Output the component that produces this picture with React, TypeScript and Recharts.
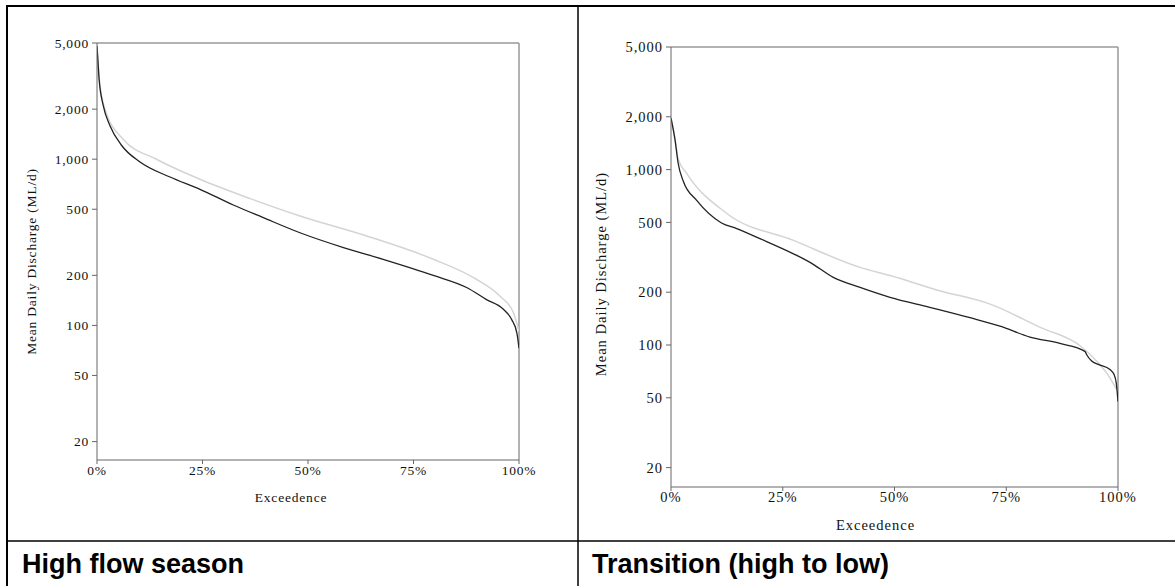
import { LineChart, Line, XAxis, YAxis, ReferenceLine } from 'recharts'

// exceedence (%) vs mean daily discharge (ML/d)
const highPct = [0, 0.2, 0.5, 1.5, 3.1, 5.8, 10.2, 17.3, 24.4, 32.3, 39.4, 48.1, 58.4, 67.8, 79.7, 87.6, 92.3, 96.3, 98.3, 99.5, 100]
const highFlow = [4800, 4000, 3030, 2090, 1585, 1213, 962, 781, 659, 530, 445, 361, 294, 250, 200, 169, 143, 125, 108, 90, 73]
const highRefPct = [0, 0.5, 1.9, 6.2, 14.1, 24.4, 36.3, 48.1, 63.9, 79.7, 89.2, 95.5, 98.7, 100]
const highRefFlow = [4600, 3100, 2000, 1318, 999, 757, 579, 455, 345, 250, 194, 150, 119, 92]

const transPct = [0, 0.9, 1.6, 2.8, 5.7, 11.3, 14.7, 19.9, 27.4, 31.1, 36.3, 42.3, 49.0, 57.9, 66.9, 73.6, 80.3, 87, 92.6, 93, 94.1, 95.6, 98.2, 99.1, 99.6, 100]
const transFlow = [1968, 1479, 1087, 853, 669, 496, 461, 404, 331, 296, 243, 213, 187, 164, 143, 128, 111, 102, 92, 88, 81, 77.5, 72.5, 68, 61, 47.7]
const transRefPct = [0, 0.9, 1.6, 3.5, 12.5, 27.4, 42.3, 49, 60.1, 71.4, 82.6, 91.5, 95.2, 98.2, 99.5, 100]
const transRefFlow = [1968, 1500, 1150, 952, 562, 395, 277, 249, 204, 171, 126, 99, 81, 65, 57, 55]

const xTicks = [0, 25, 50, 75, 100]
const yTicks = [20, 50, 100, 200, 500, 1000, 2000, 5000]

const toPoints = (pct: number[], vals: number[]) => pct.map((p, i) => ({ p, v: vals[i] }))

const SERIF = '"Liberation Serif", "Times New Roman", serif'

function XTitle({ viewBox, dx, dy, fontSize, spacing }: any) {
  const { x, y, width } = viewBox
  return (
    <text x={x + width / 2 + dx} y={y + dy} textAnchor="middle" dominantBaseline="central"
      fontFamily={SERIF} fontSize={fontSize} letterSpacing={spacing} fill="#111">
      Exceedence
    </text>
  )
}

function YTitle({ viewBox, cx, dy, fontSize, spacing }: any) {
  const { x, y, height } = viewBox
  const px = x + cx
  const py = y + height / 2 + dy
  return (
    <text x={px} y={py} transform={`rotate(-90, ${px}, ${py})`} textAnchor="middle" dominantBaseline="central"
      fontFamily={SERIF} fontSize={fontSize} letterSpacing={spacing} fill="#111">
      Mean Daily Discharge (ML/d)
    </text>
  )
}

type PanelProps = {
  left: number
  top: number
  width: number
  height: number
  marginTop: number
  yWidth: number
  fontSize: number
  spacing: number
  main: { p: number; v: number }[]
  ref2: { p: number; v: number }[]
  yTitleX: number
  yTitleDy: number
  xTitleDx: number
  xTitleDy: number
}

function Panel(props: PanelProps) {
  const tick = { fill: '#111', fontSize: props.fontSize, fontFamily: SERIF, letterSpacing: props.spacing }
  return (
    <div style={{ position: 'absolute', left: props.left, top: props.top }}>
      <LineChart width={props.width} height={props.height}
        margin={{ top: props.marginTop, right: 40, bottom: 0, left: 0 }}>
        <XAxis type="number" dataKey="p" domain={[0, 100]} ticks={xTicks} tickFormatter={(v) => `${v}%`}
          allowDataOverflow height={50} tickSize={4} tickMargin={1} tick={tick}
          axisLine={{ stroke: '#666' }} tickLine={{ stroke: '#666' }}
          label={<XTitle dx={props.xTitleDx} dy={props.xTitleDy} fontSize={props.fontSize} spacing={props.spacing} />} />
        <YAxis type="number" scale="log" domain={[15.5, 5000]} ticks={yTicks} allowDataOverflow
          tickFormatter={(v) => Number(v).toLocaleString('en-US')} width={props.yWidth}
          tickSize={5} tickMargin={3} tick={tick}
          axisLine={{ stroke: '#666' }} tickLine={{ stroke: '#666' }}
          label={<YTitle cx={props.yTitleX} dy={props.yTitleDy} fontSize={props.fontSize} spacing={props.spacing} />} />
        <ReferenceLine y={5000} stroke="#999" strokeWidth={1.5} />
        <ReferenceLine x={100} stroke="#999" strokeWidth={1.5} />
        <Line data={props.ref2} dataKey="v" type="monotone" stroke="#d4d4d4" strokeWidth={1.5} dot={false} isAnimationActive={false} />
        <Line data={props.main} dataKey="v" type="monotone" stroke="#222" strokeWidth={1.3} dot={false} isAnimationActive={false} />
      </LineChart>
    </div>
  )
}

export default function App() {
  return (
    <div style={{ position: 'absolute', left: 0, top: 0, width: 1175, height: 586, background: '#fff', overflow: 'hidden' }}>
      <Panel left={20} top={20} width={539} height={490} marginTop={23} yWidth={77}
        fontSize={13.5} spacing={0.8} main={toPoints(highPct, highFlow)} ref2={toPoints(highRefPct, highRefFlow)}
        yTitleX={11} yTitleDy={10} xTitleDx={-17} xTitleDy={37} />
      <Panel left={590} top={20} width={568} height={517} marginTop={27} yWidth={81}
        fontSize={14.5} spacing={1} main={toPoints(transPct, transFlow)} ref2={toPoints(transRefPct, transRefFlow)}
        yTitleX={11} yTitleDy={7} xTitleDx={-19} xTitleDy={38} />
      <svg width={1175} height={586} style={{ position: 'absolute', left: 0, top: 0, pointerEvents: 'none' }}>
        <line x1={6} y1={6} x2={1175} y2={6} stroke="#000" strokeWidth={2} />
        <line x1={7} y1={5} x2={7} y2={586} stroke="#000" strokeWidth={2} />
        <line x1={578} y1={5} x2={578} y2={586} stroke="#000" strokeWidth={1.5} />
        <line x1={6} y1={541} x2={1175} y2={541} stroke="#000" strokeWidth={1.5} />
        <text x={22} y={573} fontFamily='"Liberation Sans", Arial, sans-serif' fontWeight="bold" fontSize={27} fill="#000">
          High flow season
        </text>
        <text x={592} y={573} fontFamily='"Liberation Sans", Arial, sans-serif' fontWeight="bold" fontSize={27} fill="#000">
          Transition (high to low)
        </text>
      </svg>
    </div>
  )
}
